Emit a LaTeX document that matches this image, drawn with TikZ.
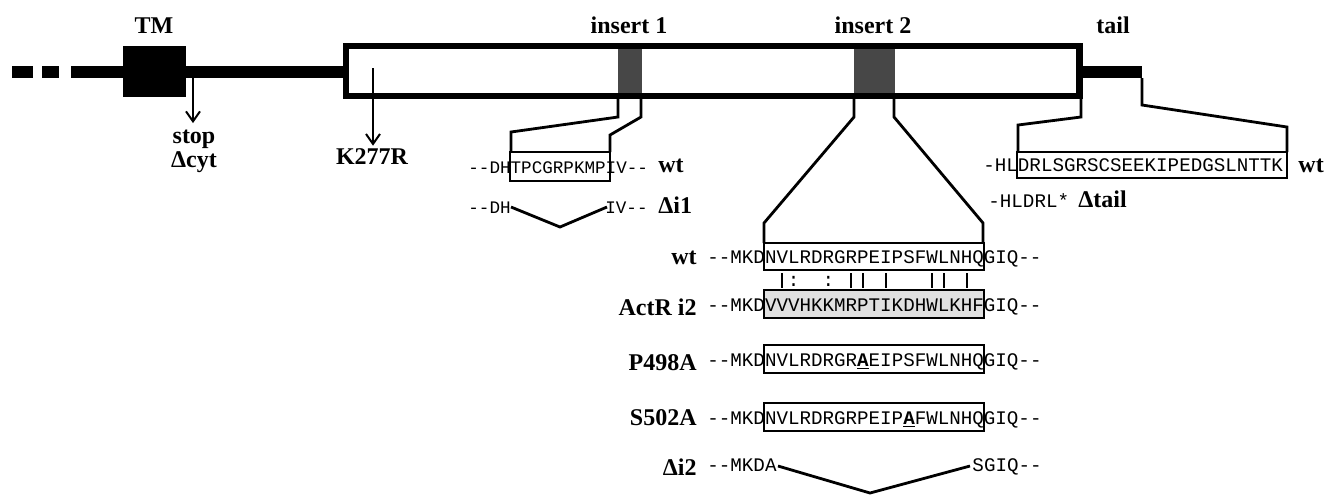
\documentclass[tikz,border=0pt]{standalone}
\usepackage{fontspec}
\setmainfont{Liberation Serif}
\setmonofont{Liberation Mono}
\usetikzlibrary{arrows.meta}
\begin{document}
\begin{tikzpicture}[x=0.5pt,y=-0.5pt,
  lab/.style={font=\bfseries\fontsize{12}{14}\selectfont, inner sep=0pt},
  seq/.style={font=\ttfamily\fontsize{9.6}{11}\selectfont, inner sep=0pt, anchor=base west},
  seqs/.style={font=\ttfamily\fontsize{8.8}{10}\selectfont, inner sep=0pt},
  bb/.style={line width=6pt},
  ins/.style={fill=black!72},
  conn/.style={line width=1.4pt, line join=miter},
  sbox/.style={draw, line width=1.3pt},
  arr/.style={line width=1pt, -{Straight Barb[length=5pt,width=7pt,line width=1pt]}},
  bar/.style={line width=1pt}]
\useasboundingbox (0,0) rectangle (1325,495);

% backbone
\draw[bb] (12,71.5) -- (33,71.5);
\draw[bb] (42,71.5) -- (59,71.5);
\draw[bb] (71,71.5) -- (346,71.5);
\draw[bb] (1079,71.5) -- (1142,71.5);
\fill (123,46) rectangle (186,97);

% main box with inserts
\fill[white] (346,46) rectangle (1079.5,96);
\fill[ins] (618,46) rectangle (642,96);
\fill[ins] (854,46) rectangle (895,96);
\draw[line width=3.2pt] (346,46) rectangle (1079.5,96);

% top labels
\node[lab, anchor=base] (tm) at (154,33) {TM};
\node[lab, anchor=base] (ins1) at (629,33) {insert 1};
\node[lab, anchor=base] (ins2) at (873,33) {insert 2};
\node[lab, anchor=base] (tail) at (1113,33) {tail};

% stop / K277R arrows
\coordinate (s0) at (193,77);
\node[lab, anchor=base] (stop) at (194,143) {stop};
\node[lab, anchor=base] (dcyt) at (194,167) {Δcyt};
\draw[arr, shorten >=3pt] (s0) -- (s0 |- stop.north);
\coordinate (k0) at (373,68);
\node[lab, anchor=base] (k277) at (372,164) {K277R};
\draw[arr, shorten >=1pt] (k0) -- (k0 |- k277.north);

% ---- insert 1 ----
\node[seqs, anchor=base west] (i1wt) at (468,173) {--DHTPCGRPKMPIV--};
\draw[sbox] (510,152) rectangle (610,181);
\node[lab, anchor=base west] (i1wtl) at (658,172) {wt};
\node[seqs, anchor=base west] (i1dl) at (468,213) {--DH};
\node[seqs, anchor=base east] (i1dr) at (648,213) {IV--};
\node[lab, anchor=base west] (i1dlab) at (658,213) {Δi1};
\coordinate (i1v1) at (511,207);
\coordinate (i1v2) at (560,227);
\coordinate (i1v3) at (607,207);
\draw[conn] (i1v1) -- (i1v2) -- (i1v3);
\coordinate (i1a) at (618,99);  \coordinate (i1b) at (618,117);
\coordinate (i1c) at (511,132); \coordinate (i1d) at (511,152);
\coordinate (i1e) at (641,99);  \coordinate (i1f) at (641,117);
\coordinate (i1g) at (610,135); \coordinate (i1h) at (610,152);
\draw[conn] (i1a) -- (i1b) -- (i1c) -- (i1d);
\draw[conn] (i1e) -- (i1f) -- (i1g) -- (i1h);

% ---- insert 2 ----
\coordinate (i2a) at (854,99);  \coordinate (i2b) at (854,117);
\coordinate (i2c) at (764,223); \coordinate (i2d) at (764,243);
\coordinate (i2e) at (894,99);  \coordinate (i2f) at (894,117);
\coordinate (i2g) at (983,223); \coordinate (i2h) at (983,243);
\draw[conn] (i2a) -- (i2b) -- (i2c) -- (i2d);
\draw[conn] (i2e) -- (i2f) -- (i2g) -- (i2h);

\draw[sbox] (764,243) rectangle (984,270);
\draw[sbox, fill=black!12] (764,290) rectangle (984,318);
\draw[sbox] (764,345) rectangle (984,373);
\draw[sbox] (764,403) rectangle (984,431);

\node[seq] (r1) at (707,263) {--MKDNVLRDRGRPEIPSFWLNHQGIQ--};
\node[seq] (r2) at (707,311) {--MKDVVVHKKMRPTIKDHWLKHFGIQ--};
\node[seq] (r3) at (707,366) {--MKDNVLRDRGR\underline{\textbf{A}}EIPSFWLNHQGIQ--};
\node[seq] (r4) at (707,424) {--MKDNVLRDRGRPEIP\underline{\textbf{A}}FWLNHQGIQ--};
\node[seq] (r5l) at (707,471) {--MKDA};
\node[seq, anchor=base east] (r5r) at (1042,471) {SGIQ--};
\coordinate (i2v1) at (778,466);
\coordinate (i2v2) at (870,493);
\coordinate (i2v3) at (970,466);
\draw[conn] (i2v1) -- (i2v2) -- (i2v3);

\node[lab, anchor=base east] (l1) at (697,264) {wt};
\node[lab, anchor=base east] (l2) at (697,315) {ActR i2};
\node[lab, anchor=base east] (l3) at (697,370) {P498A};
\node[lab, anchor=base east] (l4) at (697,425) {S502A};
\node[lab, anchor=base east] (l5) at (697,475) {Δi2};

% alignment bars
\foreach \p in {1,7,8,10,14,15,17}{
  \draw[bar] ({770.5+11.55*\p},273) -- ({770.5+11.55*\p},288);
}
\foreach \p/\n in {2/ca,5/cb}{
  \node[font=\ttfamily\fontsize{9.6}{11}\selectfont, inner sep=0pt] (\n) at ({770.5+11.55*\p},281) {:};
}

% ---- tail ----
\coordinate (ta) at (1081,99);  \coordinate (tb) at (1081,117);
\coordinate (tc) at (1018,125); \coordinate (td) at (1018,152);
\coordinate (te) at (1142,78);  \coordinate (tf) at (1142,105);
\coordinate (tg) at (1287,127); \coordinate (th) at (1287,152);
\draw[conn] (ta) -- (tb) -- (tc) -- (td);
\draw[conn] (te) -- (tf) -- (tg) -- (th);
\draw[sbox] (1017,152) rectangle (1287,178);
\node[seq] (twt) at (983,171) {-HLDRLSGRSCSEEKIPEDGSLNTTK};
\node[lab, anchor=base west] (twtl) at (1298,172) {wt};
\node[seq] (tdel) at (988,207) {-HLDRL*};
\node[lab, anchor=base west] (tdell) at (1078,207) {Δtail};
\end{tikzpicture}
\end{document}
